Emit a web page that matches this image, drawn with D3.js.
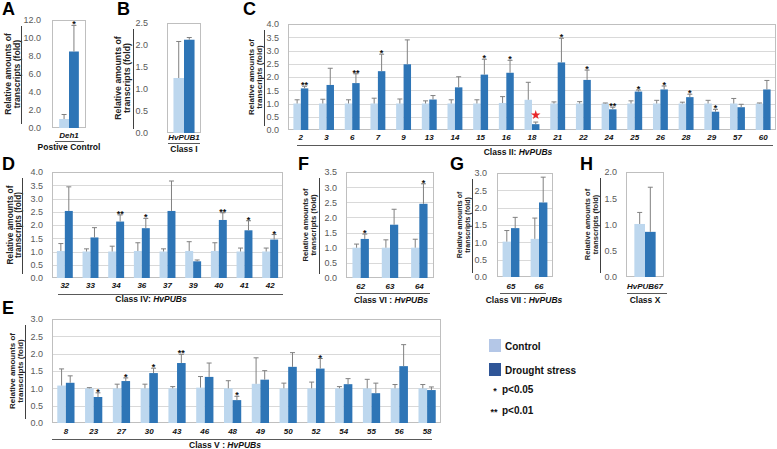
<!DOCTYPE html>
<html><head><meta charset="utf-8">
<script src="https://cdn.jsdelivr.net/npm/d3@7"></script>
<style>body{margin:0;background:#fff}svg{display:block}</style>
</head><body><script>
// ---------------- DATA ----------------
const seriesNames = ["Control", "Drought stress"];
const sigLegend = ["p<0.05", "p<0.01"];

// A : Positive control
const catsA = ["Deh1"];
const ctrlA = [1.0], ctrlSdA = [0.5], drA = [8.5], drSdA = [2.9], sigA = ["*"];
const ticksA = [0, 2, 4, 6, 8, 10, 12];

// B : Class I
const catsB = ["HvPUB1"];
const ctrlB = [1.25], ctrlSdB = [0.83], drB = [2.12], drSdB = [0.05], sigB = [""];
const ticksB = [0, 0.5, 1, 1.5, 2, 2.5];

// C : Class II
const catsC = ["2","3","6","7","9","13","14","15","16","18","21","22","24","25","26","28","29","57","60"];
const ctrlC = [1.0,1.0,1.0,1.0,1.0,1.0,1.0,1.0,1.02,1.14,1.0,1.0,1.0,1.0,1.0,1.0,1.0,1.0,1.0];
const ctrlSdC = [0.14,0.16,0.14,0.2,0.17,0.1,0.14,0.14,0.24,0.66,0.06,0.07,0.02,0.1,0.12,0.05,0.12,0.19,0.02];
const drC = [1.57,1.70,1.77,2.22,2.48,1.15,1.61,2.09,2.16,0.22,2.55,1.89,0.78,1.45,1.53,1.24,0.69,0.86,1.53];
const drSdC = [0.08,0.63,0.35,0.64,0.92,0.15,0.40,0.58,0.47,0.08,0.91,0.37,0.08,0.06,0.13,0.11,0.09,0.11,0.34];
const sigC = ["**","","**","*","","","","*","*","★","*","*","**","*","*","*","*","",""];
const ticksC = [0,0.5,1,1.5,2,2.5,3,3.5,4];

// D : Class IV
const catsD = ["32","33","34","36","37","39","40","41","42"];
const ctrlD = [1.02,1.0,1.0,1.02,1.0,1.02,1.02,1.0,1.0];
const ctrlSdD = [0.28,0.1,0.2,0.31,0.1,0.35,0.31,0.13,0.13];
const drD = [2.53,1.53,2.13,1.88,2.53,0.63,2.19,1.80,1.45];
const drSdD = [0.91,0.37,0.25,0.37,1.13,0.05,0.27,0.36,0.19];
const sigD = ["","","**","*","","","**","*","*"];
const ticksD = [0,0.5,1,1.5,2,2.5,3,3.5,4];

// E : Class V
const catsE = ["8","23","27","30","43","46","48","49","50","52","54","55","56","58"];
const ctrlE = [1.08,1.0,1.0,1.0,1.0,1.02,1.0,1.13,1.0,1.0,1.0,1.0,1.0,1.0];
const ctrlSdE = [0.48,0.02,0.12,0.12,0.05,0.32,0.22,0.75,0.15,0.18,0.05,0.26,0.11,0.11];
const drE = [1.16,0.75,1.21,1.44,1.73,1.33,0.66,1.25,1.62,1.57,1.12,0.86,1.64,0.95];
const drSdE = [0.2,0.12,0.09,0.14,0.25,0.4,0.11,0.26,0.41,0.29,0.16,0.29,0.62,0.09];
const sigE = ["","*","*","*","**","","*","","","*","","","",""];
const ticksE = [0,0.5,1,1.5,2,2.5,3];

// F : Class VI
const catsF = ["62","63","64"];
const ctrlF = [1.0,1.0,1.0], ctrlSdF = [0.12,0.26,0.28];
const drF = [1.29,1.76,2.45], drSdF = [0.16,0.51,0.66];
const sigF = ["*","","*"];
const ticksF = [0,0.5,1,1.5,2,2.5,3,3.5];

// G : Class VII
const catsG = ["65","66"];
const ctrlG = [1.02,1.1], ctrlSdG = [0.32,0.6];
const drG = [1.41,2.15], drSdG = [0.31,0.73];
const sigG = ["",""];
const ticksG = [0,0.5,1,1.5,2,2.5,3];

// H : Class X
const catsH = ["HvPUB67"];
const ctrlH = [1.01], ctrlSdH = [0.22], drH = [0.86], drSdH = [0.85], sigH = [""];
const ticksH = [0,0.5,1,1.5,2];

// ---------------- STYLE / LAYOUT ----------------
const FONT = "'Liberation Sans', Arial, Helvetica, sans-serif";
const C_CTRL = "#bdd7ee", C_DR = "#2e75b6";
const C_LEG_CTRL = "#b4c7e7", C_LEG_DR = "#2f5597";
const C_ERR = "#808080", C_GRID = "#d9d9d9", C_BOX = "#bfbfbf";

const svg = d3.select("body").append("svg").attr("width", 777).attr("height", 449)
  .style("font-family", FONT);

function drawPanel(p, cats, ctrl, ctrlSd, dr, drSd, sig, ticks) {
  const g = svg.append("g");
  const x = d3.scaleBand().domain(cats).range([p.x0, p.x1]);
  const y = d3.scaleLinear().domain([0, ticks[ticks.length - 1]]).range([p.y1, p.y0]);
  const bw = x.bandwidth(), w = bw * p.barFrac;

  // gridlines
  if (p.grid) {
    g.selectAll("line.grid").data(ticks.slice(1, -1)).join("line")
      .attr("x1", p.x0).attr("x2", p.x1)
      .attr("y1", d => Math.round(y(d)) + 0.5).attr("y2", d => Math.round(y(d)) + 0.5)
      .attr("stroke", C_GRID).attr("stroke-width", 1);
  }
  // box
  g.append("rect").attr("x", p.x0 + 0.5).attr("y", p.y0 + 0.5)
    .attr("width", p.x1 - p.x0 - 1).attr("height", p.y1 - p.y0 - 1)
    .attr("fill", "none").attr("stroke", C_BOX);

  // tick labels
  const ax = g.append("g").attr("transform", `translate(${p.tickRight},0)`)
    .call(d3.axisLeft(y).tickValues(ticks).tickSize(0).tickPadding(0).tickFormat(d3.format(".1f")));
  ax.select(".domain").remove();
  ax.selectAll("text").attr("font-size", 9).attr("fill", "#595959").attr("font-family", FONT);

  const rows = cats.map((c, i) => ({c, i}));
  // bars
  g.selectAll("rect.ctrl").data(rows).join("rect")
    .attr("x", d => x(d.c) + bw / 2 - w).attr("width", w)
    .attr("y", d => y(ctrl[d.i])).attr("height", d => y(0) - y(ctrl[d.i]))
    .attr("fill", C_CTRL);
  g.selectAll("rect.dr").data(rows).join("rect")
    .attr("x", d => x(d.c) + bw / 2).attr("width", w)
    .attr("y", d => y(dr[d.i])).attr("height", d => y(0) - y(dr[d.i]))
    .attr("fill", C_DR);

  // error bars
  const errs = [];
  rows.forEach(d => {
    errs.push({cx: x(d.c) + bw / 2 - w / 2, v: ctrl[d.i], s: ctrlSd[d.i]});
    errs.push({cx: x(d.c) + bw / 2 + w / 2, v: dr[d.i], s: drSd[d.i]});
  });
  const eg = g.selectAll("g.err").data(errs).join("g");
  eg.append("line").attr("x1", d => d.cx).attr("x2", d => d.cx)
    .attr("y1", d => y(d.v)).attr("y2", d => y(d.v + d.s))
    .attr("stroke", C_ERR).attr("stroke-width", 1);
  eg.append("line").attr("x1", d => d.cx - 2.5).attr("x2", d => d.cx + 2.5)
    .attr("y1", d => y(d.v + d.s)).attr("y2", d => y(d.v + d.s))
    .attr("stroke", C_ERR).attr("stroke-width", 1);

  // significance marks
  rows.forEach(d => {
    const s = sig[d.i];
    if (!s) return;
    const cx = x(d.c) + bw / 2 + w / 2;
    const top = y(dr[d.i] + drSd[d.i]);
    if (s === "★") {
      g.append("path").attr("d", d3.symbol(d3.symbolStar, 28)())
        .attr("transform", `translate(${cx},${top - 7})`).attr("fill", "#e8262a");
    } else {
      g.append("text").attr("x", cx).attr("y", top + 2).attr("text-anchor", "middle")
        .attr("font-size", 9).attr("font-weight", "bold").attr("fill", "#111").text(s);
    }
  });

  // category labels
  g.selectAll("text.cat").data(cats).join("text")
    .attr("x", d => x(d) + bw / 2).attr("y", p.labY).attr("text-anchor", "middle")
    .attr("font-size", 8).attr("font-weight", "bold").attr("font-style", "italic")
    .attr("fill", "#111").text(d => d);
  // underline
  g.append("line").attr("x1", p.ul[0]).attr("x2", p.ul[1])
    .attr("y1", p.ulY + 0.5).attr("y2", p.ulY + 0.5).attr("stroke", "#595959");
  // class label
  const ct = g.append("text").attr("x", p.clsX).attr("y", p.clsY).attr("text-anchor", "middle")
    .attr("font-size", 8.5).attr("font-weight", "bold").attr("fill", "#111");
  p.cls.forEach(([t, it]) => ct.append("tspan").attr("font-style", it ? "italic" : "normal").text(t));

  // y-axis title (two lines) + rule
  const yc = (p.y0 + p.y1) / 2 + (p.ylShift || 0);
  ["Relative amounts of", "transcripts (fold)"].forEach((t, k) => {
    g.append("text").attr("transform", `translate(${p.yl[k]},${yc}) rotate(-90)`)
      .attr("text-anchor", "middle").attr("dy", "0.35em")
      .attr("font-size", p.ylFont).attr("font-weight", "bold").attr("fill", "#222").text(t);
  });
  g.append("line").attr("x1", p.lineX + 0.5).attr("x2", p.lineX + 0.5)
    .attr("y1", p.y0 + 6).attr("y2", p.y1 - 4).attr("stroke", "#404040");

  // panel letter
  g.append("text").attr("x", p.letter[0]).attr("y", p.letter[1])
    .attr("font-size", 18).attr("font-weight", "bold").attr("fill", "#000").text(p.L);
}

const HV = [["Class ", false]];
drawPanel({L:"A", x0:52, x1:86, y0:20, y1:128, barFrac:0.29, grid:false, tickRight:41, lineX:21, yl:[8,17], ylFont:8.6,
  letter:[2,15], labY:138, ulY:141, ul:[55,84], clsY:150, clsX:69, cls:[["Postive Control", false]]},
  catsA, ctrlA, ctrlSdA, drA, drSdA, sigA, ticksA);
drawPanel({L:"B", x0:167, x1:201, y0:23, y1:133, barFrac:0.31, grid:false, tickRight:148, lineX:133, yl:[118,127], ylFont:8.8,
  letter:[117,15], labY:140, ulY:143, ul:[168,200], clsY:152, clsX:184, cls:[["Class I", false]]},
  catsB, ctrlB, ctrlSdB, drB, drSdB, sigB, ticksB);
drawPanel({L:"C", x0:288, x1:776, y0:24, y1:130, barFrac:0.29, grid:true, tickRight:279, lineX:264, yl:[251,259], ylFont:8,
  letter:[243,15], labY:140, ulY:145, ul:[297,773], clsY:155, clsX:518, cls:[["Class II: ", false], ["HvPUBs", true]]},
  catsC, ctrlC, ctrlSdC, drC, drSdC, sigC, ticksC);
drawPanel({L:"D", x0:52, x1:283, y0:172, y1:278, barFrac:0.31, grid:true, tickRight:43, lineX:22, yl:[10,18], ylFont:8.3,
  letter:[2,170], labY:288, ulY:294, ul:[58,283], clsY:302, clsX:151, cls:[["Class IV: ", false], ["HvPUBs", true]]},
  catsD, ctrlD, ctrlSdD, drD, drSdD, sigD, ticksD);
drawPanel({L:"E", x0:52, x1:441, y0:319, y1:423, barFrac:0.31, grid:true, tickRight:43, lineX:25, yl:[12,20], ylFont:8,
  letter:[2,314], labY:434, ulY:439, ul:[52,432], clsY:448, clsX:225, cls:[["Class V : ", false], ["HvPUBs", true]]},
  catsE, ctrlE, ctrlSdE, drE, drSdE, sigE, ticksE);
drawPanel({L:"F", x0:346, x1:434, y0:172, y1:278, barFrac:0.28, grid:true, tickRight:337, lineX:319, yl:[305,313], ylFont:7.7,
  letter:[298,170], labY:289, ulY:293, ul:[356,430], clsY:303, clsX:391, cls:[["Class VI : ", false], ["HvPUBs", true]]},
  catsF, ctrlF, ctrlSdF, drF, drSdF, sigF, ticksF);
drawPanel({L:"G", x0:497, x1:553, y0:173, y1:277, barFrac:0.3, grid:true, tickRight:487, lineX:472, yl:[460,468], ylFont:7,
  letter:[450,170], labY:289, ulY:293, ul:[500,546], clsY:303, clsX:524, cls:[["Class VII : ", false], ["HvPUBs", true]]},
  catsG, ctrlG, ctrlSdG, drG, drSdG, sigG, ticksG);
drawPanel({L:"H", x0:626, x1:664, y0:172, y1:277, barFrac:0.28, grid:false, tickRight:617, lineX:600, yl:[587,595], ylFont:7.5,
  letter:[580,170], labY:289, ulY:293, ul:[627,667], clsY:303, clsX:645, cls:[["Class X", false]]},
  catsH, ctrlH, ctrlSdH, drH, drSdH, sigH, ticksH);

// ---------------- LEGEND ----------------
const leg = svg.append("g");
const legSw = [{name: seriesNames[0], c: C_LEG_CTRL, y: 339}, {name: seriesNames[1], c: C_LEG_DR, y: 363}];
leg.selectAll("rect").data(legSw).join("rect")
  .attr("x", 489).attr("y", d => d.y).attr("width", 12).attr("height", 13).attr("fill", d => d.c);
leg.selectAll("text.sw").data(legSw).join("text")
  .attr("x", 505).attr("y", d => d.y + 11).attr("font-size", 10).attr("font-weight", "bold")
  .attr("fill", "#111").text(d => d.name);
const legSig = [{m: "*", t: sigLegend[0], y: 393, mx: 495}, {m: "**", t: sigLegend[1], y: 414, mx: 494}];
leg.selectAll("text.m").data(legSig).join("text")
  .attr("x", d => d.mx).attr("y", d => d.y + 1).attr("text-anchor", "middle")
  .attr("font-size", 9).attr("font-weight", "bold").attr("fill", "#111").text(d => d.m);
leg.selectAll("text.p").data(legSig).join("text")
  .attr("x", 502).attr("y", d => d.y).attr("font-size", 10).attr("font-weight", "bold")
  .attr("fill", "#111").text(d => d.t);
</script></body></html>
